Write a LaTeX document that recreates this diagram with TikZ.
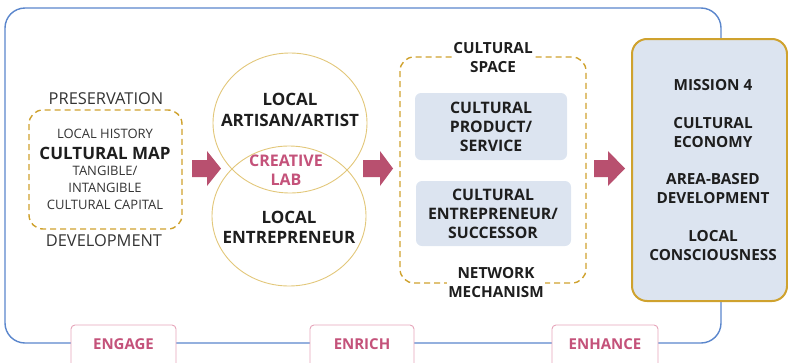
\documentclass[tikz,border=0pt]{standalone}
\usepackage{fontspec}
\setmainfont{Open Sans}
\usetikzlibrary{shapes.geometric}
\definecolor{frameblue}{HTML}{5A86CC}
\definecolor{gold}{HTML}{CFA22E}
\definecolor{lightgold}{HTML}{E2C77A}
\definecolor{pinkarrow}{HTML}{B8506F}
\definecolor{pinktext}{HTML}{C4527A}
\definecolor{pinkborder}{HTML}{E6A5BA}
\definecolor{paleblue}{HTML}{DCE4F0}
\definecolor{darktext}{HTML}{1E1E1E}
\definecolor{graytext}{HTML}{333333}
\tikzset{
  bold/.style={font=\bfseries\fontsize{15.3}{19}\selectfont, text=darktext, align=center, inner sep=1pt},
  midbold/.style={font=\bfseries\fontsize{15.8}{19}\selectfont, text=darktext, align=center, inner sep=1pt},
  bigbold/.style={font=\bfseries\fontsize{17}{20.5}\selectfont, text=darktext, align=center, inner sep=1pt},
  plain/.style={font=\fontsize{16.4}{19}\selectfont, text=graytext, align=center, inner sep=1pt},
  small/.style={font=\fontsize{13}{17}\selectfont, text=graytext, align=center, inner sep=1pt},
  pinklabel/.style={font=\bfseries\fontsize{15}{19}\selectfont, text=pinktext, align=center, inner sep=1pt},
  stagebox/.style={draw=pinkborder, fill=white, line width=0.9pt, rounded corners=4pt},
  dashbox/.style={draw=gold, dashed, dash pattern=on 6pt off 4pt, line width=1.4pt, rounded corners=14pt},
  innerbox/.style={fill=paleblue, rounded corners=6pt},
  blockarrow/.style={fill=pinkarrow},
  circ/.style={draw=lightgold, line width=0.9pt, ellipse, minimum width=154pt, minimum height=140pt, inner sep=0pt}
}
\begin{document}
\begin{tikzpicture}[x=1pt,y=-1pt]
\useasboundingbox (0,0) rectangle (788,362);
% outer frame
\draw[frameblue, line width=1.4pt, rounded corners=20pt] (5,8) rectangle (721,343);
% bottom stage boxes
\draw[stagebox] (71,325) rectangle (176,368);
\draw[stagebox] (310,325) rectangle (414,368);
\draw[stagebox] (552,325) rectangle (658,368);
\node[pinklabel] (engage) at (123.5,344) {ENGAGE};
\node[pinklabel] (enrich) at (362,344) {ENRICH};
\node[pinklabel] (enhance) at (605,344) {ENHANCE};
% left dashed box
\draw[dashbox] (29,110) rectangle (182,229);
\node[plain] (pres) at (106,99) {PRESERVATION};
\node[plain] (dev) at (104,241) {DEVELOPMENT};
\node[small] (lochist) at (105,134) {LOCAL HISTORY};
\node[font=\bfseries\fontsize{17}{20}\selectfont, text=darktext, inner sep=1pt] (cmap) at (105,153) {CULTURAL MAP};
\node[small] (capital) at (105,188) {TANGIBLE/\\INTANGIBLE\\CULTURAL CAPITAL};
% arrow 1
\fill[blockarrow] (192,160) -- (207,160) -- (207,151) -- (221,168.5) -- (207,186) -- (207,177) -- (192,177) -- cycle;
% circles
\node[circ] (c1) at (290,123) {};
\node[circ] (c2) at (289,216) {};
\node[bigbold] (artisan) at (290,110) {LOCAL\\ARTISAN/ARTIST};
\node[font=\bfseries\fontsize{16}{19}\selectfont, text=pinktext, align=center, inner sep=1pt] (lab) at (286,170.5) {CREATIVE\\LAB};
\node[bigbold] (entre) at (289,227.5) {LOCAL\\ENTREPRENEUR};
% arrow 2
\fill[blockarrow] (363,160) -- (380,160) -- (380,151) -- (393,168.5) -- (380,186) -- (380,177) -- (363,177) -- cycle;
% middle dashed box
\draw[dashbox] (400,57) rectangle (586,283);
\node[bold, fill=white] (space) at (493,57.5) {CULTURAL\\SPACE};
\node[bold, fill=white] (network) at (496,282.5) {NETWORK\\MECHANISM};
\fill[innerbox] (415,93) rectangle (567,160);
\fill[innerbox] (416,181) rectangle (571,246);
\node[midbold] (product) at (491,127) {CULTURAL\\PRODUCT/\\SERVICE};
\node[midbold] (centre) at (493,213.5) {CULTURAL\\ENTREPRENEUR/\\SUCCESSOR};
% arrow 3
\fill[blockarrow] (594,160) -- (608,160) -- (608,151) -- (625,168.5) -- (608,186) -- (608,177) -- (594,177) -- cycle;
% right box
\draw[draw=gold, fill=paleblue, line width=2pt, rounded corners=15pt] (632,39) rectangle (787,301);
\node[bold] (mission) at (713,85) {MISSION 4};
\node[bold] (economy) at (713,132.5) {CULTURAL\\ECONOMY};
\node[bold] (area) at (713,188.5) {AREA-BASED\\DEVELOPMENT};
\node[bold] (conscious) at (713,245.5) {LOCAL\\CONSCIOUSNESS};
\end{tikzpicture}
\end{document}
